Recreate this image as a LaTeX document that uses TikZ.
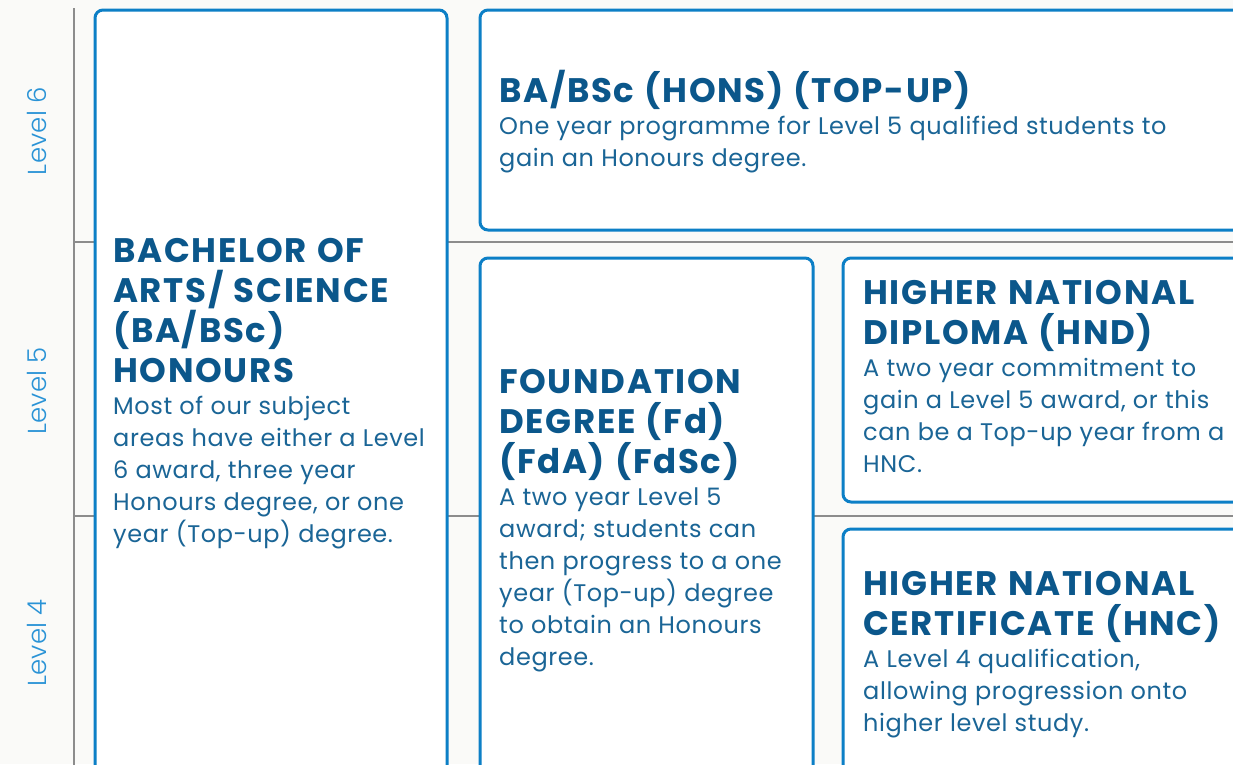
\documentclass[tikz,border=0pt]{standalone}
\usepackage{fontspec}
\setmainfont{Poppins}
\newfontfamily\ttlfont{Poppins}[LetterSpace=5]
\newfontfamily\bdyfont{Poppins}[LetterSpace=2.5]
\newfontfamily\lvlfont{Poppins}[UprightFont=* Light,LetterSpace=1]
\definecolor{boxblue}{HTML}{0C7FC6}
\definecolor{titleblue}{HTML}{0B578B}
\definecolor{bodyblue}{HTML}{1A6596}
\definecolor{lvlblue}{HTML}{2A93D6}
\definecolor{gridgray}{HTML}{8C8C8C}
\definecolor{paper}{HTML}{FAFAF8}
\newcommand{\qtitle}{\fontsize{34}{40}\ttlfont\bfseries\color{titleblue}\spaceskip=.3em plus .1em\relax}
\newcommand{\qbody}{\fontsize{24}{32}\bdyfont\mdseries\color{bodyblue}\spaceskip=.3em plus .1em\relax}

\begin{document}
\begin{tikzpicture}[x=1pt,y=-1pt,
   box/.style={draw=boxblue,line width=3pt,fill=white,rounded corners=8pt},
   rule/.style={draw=gridgray,line width=1.5pt},
   lvl/.style={rotate=90,text=lvlblue,inner sep=0pt,font=\fontsize{26}{30}\lvlfont},
   info/.style={anchor=base west,inner sep=0pt,text width=900pt,align=left}]
   \fill[paper] (0,0) rectangle (1233,764);
   \useasboundingbox (0,0) rectangle (1233,764);
   \clip (0,0) rectangle (1233,764);
   % level rules
   \draw[rule] (74,8) -- (74,770);
   \draw[rule] (74,242) -- (1240,242);
   \draw[rule] (74,516) -- (1240,516);
   % qualification boxes
   \draw[box] (95,10) rectangle (447,790);
   \draw[box] (480,10) rectangle (1250,230);
   \draw[box] (480,258) rectangle (813,790);
   \draw[box] (843,258) rectangle (1250,502);
   \draw[box] (843,529) rectangle (1250,790);
   % levels
   \node[lvl] (lev6) at (37,131) {Level 6};
   \node[lvl] (lev5) at (37,391) {Level 5};
   \node[lvl] (lev4) at (37,643) {Level 4};
   % texts
   \node[info] (ba) at (113,262) {\qtitle BACHELOR OF\\ARTS/ SCIENCE\\(BA/BSc)\\HONOURS\par
      \qbody Most of our subject\\areas have either a Level\\6 award, three year\\Honours degree, or one\\year (Top-up) degree.\par};
   \node[info] (topup) at (499,102) {\qtitle BA/BSc (HONS) (TOP-UP)\par
      \qbody One year programme for Level 5 qualified students to\\gain an Honours degree.\par};
   \node[info] (fd) at (499,393) {\qtitle FOUNDATION\\DEGREE (Fd)\\(FdA) (FdSc)\par
      \qbody A two year Level 5\\award; students can\\then progress to a one\\year (Top-up) degree\\to obtain an Honours\\degree.\par};
   \node[info] (hnd) at (863,304) {\qtitle HIGHER NATIONAL\\DIPLOMA (HND)\par
      \qbody A two year commitment to\\gain a Level 5 award, or this\\can be a Top-up year from a\\HNC.\par};
   \node[info] (hnc) at (863,595) {\qtitle HIGHER NATIONAL\\CERTIFICATE (HNC)\par
      \qbody A Level 4 qualification,\\allowing progression onto\\higher level study.\par};
\end{tikzpicture}
\end{document}
